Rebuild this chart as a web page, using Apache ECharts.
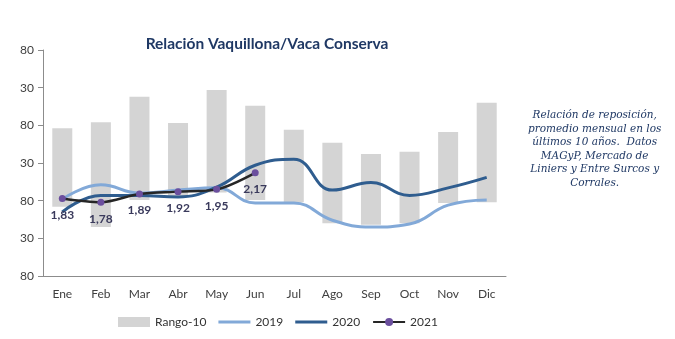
<!DOCTYPE html>
<html>
<head>
<meta charset="utf-8">
<script src="https://cdn.jsdelivr.net/npm/echarts@6/dist/echarts.min.js"></script>
<style>
  html, body { margin: 0; padding: 0; background: #ffffff; }
  #chart { width: 675px; height: 339px; }
</style>
</head>
<body>
<div id="chart"></div>
<script>
// Monthly categories
const months = ['Ene', 'Feb', 'Mar', 'Abr', 'May', 'Jun', 'Jul', 'Ago', 'Sep', 'Oct', 'Nov', 'Dic'];

// 10-year range (min / max of the monthly average ratio)
const rangeMin = [1.72, 1.45, 1.81, 1.85, 1.91, 1.81, 1.78, 1.50, 1.48, 1.50, 1.77, 1.78];
const rangeMax = [2.76, 2.84, 3.18, 2.83, 3.27, 3.06, 2.74, 2.57, 2.42, 2.45, 2.71, 3.10];

// Yearly series
const y2019 = [1.82, 2.01, 1.90, 1.94, 1.97, 1.77, 1.77, 1.54, 1.45, 1.49, 1.74, 1.81];
const y2020 = [1.65, 1.87, 1.87, 1.85, 1.98, 2.27, 2.35, 1.94, 2.04, 1.87, 1.97, 2.11];
const y2021 = [1.83, 1.78, 1.89, 1.92, 1.95, 2.17];

// Value axis settings
const yMin = 0.8, yMax = 3.8, yStep = 0.5;

const noteLines = [
  'Relación de reposición,',
  'promedio mensual en los',
  'últimos 10 años.  Datos',
  'MAGyP, Mercado de',
  'Liniers y Entre Surcos y',
  'Corrales.'
];

const rangeSpan = rangeMax.map((v, i) => +(v - rangeMin[i]).toFixed(2));

// Plain line legend icon: a 3px stroke centred in a 10px-high box
const lineIcon = 'path://M0,3.5h32v3h-32z M0,0h0.01v0.01h-0.01z M0,10h0.01v-0.01h-0.01z';

const chart = echarts.init(document.getElementById('chart'));
const axisFont = { fontFamily: 'Lato', fontSize: 12, color: '#404040' };

chart.setOption({
  animation: false,
  textStyle: { fontFamily: 'Lato' },
  title: {
    text: 'Relación Vaquillona/Vaca Conserva',
    left: 262, top: 31, textAlign: 'center',
    textStyle: { fontFamily: 'Lato', fontWeight: 'bold', fontSize: 15.5, color: '#1f3864' }
  },
  grid: { left: 43, right: 169, top: 50, bottom: 63 },
  legend: {
    bottom: 6, left: 113,
    itemWidth: 32, itemHeight: 10, itemGap: 12,
    textStyle: { fontFamily: 'Lato', fontSize: 12, color: '#333' },
    data: [
      { name: 'Rango-10', icon: 'rect' },
      { name: '2019', icon: lineIcon },
      { name: '2020', icon: lineIcon },
      { name: '2021' }
    ]
  },
  xAxis: {
    type: 'category',
    data: months,
    axisLine: { lineStyle: { color: '#8c8c8c', width: 1 } },
    axisTick: { show: false },
    axisLabel: Object.assign({ margin: 12 }, axisFont)
  },
  yAxis: {
    type: 'value',
    min: yMin, max: yMax, interval: yStep,
    axisLine: { show: true, lineStyle: { color: '#8c8c8c', width: 1 } },
    axisTick: { show: true, length: 5, lineStyle: { color: '#8c8c8c' } },
    splitLine: { show: false },
    axisLabel: Object.assign({
      margin: 9,
      formatter: v => v.toFixed(2).slice(-2)
    }, axisFont)
  },
  series: [
    {
      name: 'base', type: 'bar', stack: 'rango', data: rangeMin,
      barWidth: 20, itemStyle: { color: 'transparent' },
      silent: true, legendHoverLink: false
    },
    {
      name: 'Rango-10', type: 'bar', stack: 'rango', data: rangeSpan,
      barWidth: 20, itemStyle: { color: '#d4d4d4' }
    },
    {
      name: '2019', type: 'line', data: y2019, smooth: 0.45,
      symbol: 'none', lineStyle: { color: '#82a9d8', width: 3 },
      itemStyle: { color: '#82a9d8' }, z: 3
    },
    {
      name: '2020', type: 'line', data: y2020, smooth: 0.45,
      symbol: 'none', lineStyle: { color: '#2f5d8f', width: 3 },
      itemStyle: { color: '#2f5d8f' }, z: 4
    },
    {
      name: '2021', type: 'line', data: y2021, smooth: 0.3,
      symbol: 'circle', symbolSize: 7,
      lineStyle: { color: '#262626', width: 2.5 },
      itemStyle: { color: '#6b4f9e' }, z: 5,
      label: {
        show: true, position: 'bottom', distance: 7,
        formatter: p => p.value.toFixed(2).replace('.', ','),
        fontFamily: 'Lato', fontSize: 12, fontWeight: 'bold', color: '#3a3a5c'
      }
    }
  ],
  graphic: [{
    type: 'text',
    left: 528, top: 109,
    style: {
      text: noteLines.join('\n'),
      font: 'italic 10.5px "DejaVu Serif"',
      fill: '#1f3864',
      textAlign: 'center',
      lineHeight: 13.5
    }
  }]
});
</script>
</body>
</html>
